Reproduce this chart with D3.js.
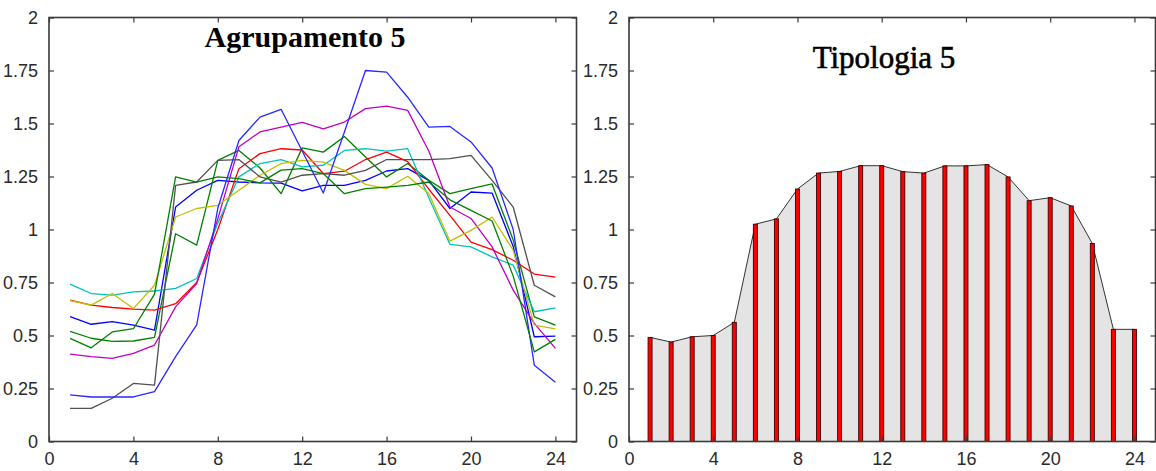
<!DOCTYPE html>
<html><head><meta charset="utf-8">
<script src="https://cdn.jsdelivr.net/npm/d3@7"></script>
<style>
html,body{margin:0;padding:0;background:#fff;}
svg{display:block;}
</style></head>
<body>
<svg id="chart" width="1156" height="471"></svg>
<script>
// ---- data ----
const hours = [1,2,3,4,5,6,7,8,9,10,11,12,13,14,15,16,17,18,19,20,21,22,23,24];
const xTicks = [0,4,8,12,16,20,24];
const yTicks = [0,0.25,0.5,0.75,1,1.25,1.5,1.75,2];
const yTickLabels = ["0","0.25","0.5","0.75","1","1.25","1.5","1.75","2"];
const titleLeft = "Agrupamento 5";
const titleRight = "Tipologia 5";

const seriesBlueA  = [0.589,0.553,0.565,0.549,0.525,1.106,1.185,1.232,1.224,1.22,1.219,1.182,1.208,1.208,1.232,1.276,1.287,1.232,1.099,1.177,1.172,0.92,0.494,0.497];
const seriesGreenA = [0.52,0.487,0.472,0.474,0.491,0.98,0.926,1.326,1.373,1.29,1.169,1.385,1.365,1.439,1.342,1.248,1.311,1.232,1.169,1.193,1.215,0.95,0.588,0.549];
const seriesRed    = [0.667,0.643,0.632,0.624,0.62,0.65,0.75,1.0,1.287,1.358,1.381,1.375,1.264,1.275,1.33,1.365,1.32,1.19,1.067,0.94,0.905,0.855,0.79,0.775];
const seriesCyan   = [0.742,0.698,0.69,0.706,0.71,0.722,0.769,1.03,1.248,1.311,1.33,1.295,1.303,1.373,1.381,1.37,1.381,1.15,0.93,0.918,0.871,0.832,0.612,0.63];
const seriesMagenta= [0.412,0.4,0.392,0.416,0.455,0.635,0.745,1.05,1.39,1.46,1.483,1.505,1.475,1.507,1.57,1.582,1.562,1.37,1.106,1.052,0.918,0.714,0.557,0.439];
const seriesYellow = [0.665,0.643,0.698,0.627,0.737,1.059,1.099,1.114,1.185,1.256,1.311,1.326,1.318,1.279,1.213,1.193,1.251,1.17,0.945,0.996,1.059,0.902,0.549,0.531];
const seriesBlack  = [0.156,0.156,0.204,0.274,0.266,1.208,1.224,1.326,1.33,1.248,1.224,1.256,1.264,1.256,1.279,1.33,1.33,1.33,1.334,1.35,1.232,1.106,0.737,0.682];
const seriesBlueB  = [0.22,0.21,0.21,0.21,0.235,0.40,0.55,1.1,1.42,1.53,1.567,1.37,1.172,1.46,1.75,1.742,1.624,1.483,1.486,1.413,1.29,1.0,0.36,0.279];
const seriesGreenB = [0.486,0.442,0.517,0.532,0.695,1.248,1.224,1.248,1.24,1.22,1.28,1.287,1.264,1.169,1.193,1.2,1.208,1.224,1.14,1.09,1.04,0.78,0.423,0.482];

const typology = [0.491,0.469,0.494,0.50,0.562,1.025,1.050,1.191,1.266,1.274,1.301,1.301,1.273,1.266,1.30,1.30,1.306,1.248,1.136,1.150,1.111,0.934,0.529,0.529];

const lineSeries = [
  {values: seriesBlueA,  color: "#0000ff"},
  {values: seriesGreenA, color: "#008000"},
  {values: seriesRed,    color: "#ff0000"},
  {values: seriesCyan,   color: "#00c0c0"},
  {values: seriesMagenta,color: "#c000c0"},
  {values: seriesYellow, color: "#c0c000"},
  {values: seriesBlack,  color: "#505050"},
  {values: seriesBlueB,  color: "#2828ff"},
  {values: seriesGreenB, color: "#008000"}
];

// ---- layout ----
const svg = d3.select("#chart");
const plotTop = 17.5, plotBottom = 441.5;
const panels = [{x0: 49, x1: 576.5}, {x0: 629, x1: 1155.5}];
const axisColor = "#3a3a3a";
const fontTick = "'Liberation Sans', Arial, sans-serif";

function makePanel(p) {
  const x = d3.scaleLinear().domain([0,25]).range([p.x0, p.x1]);
  const y = d3.scaleLinear().domain([0,2]).range([plotBottom, plotTop]);
  const g = svg.append("g");
  return {x, y, g};
}

function drawFrame(P) {
  const {x, y, g} = P;
  const fg = g.append("g");
  const left = fg.append("g").attr("transform", `translate(${x(0)},0)`)
    .call(d3.axisLeft(y).tickValues(yTicks).tickSize(-5).tickPadding(11)
      .tickFormat((d,i) => yTickLabels[i]));
  const bot = fg.append("g").attr("transform", `translate(0,${y(0)})`)
    .call(d3.axisBottom(x).tickValues(xTicks).tickSize(-5).tickPadding(11));
  const rt = fg.append("g").attr("transform", `translate(${x(25)},0)`)
    .call(d3.axisRight(y).tickValues(yTicks).tickSize(-5).tickFormat(""));
  const tp = fg.append("g").attr("transform", `translate(0,${y(2)})`)
    .call(d3.axisTop(x).tickValues(xTicks).tickSize(-5).tickFormat(""));
  [left, bot, rt, tp].forEach(a => {
    a.select(".domain").remove();
    a.selectAll("line").attr("stroke", axisColor).attr("stroke-width", 1.2);
    a.selectAll("text").attr("fill", "#2a2a2a").style("font-family", fontTick).style("font-size", "18px");
  });
  fg.append("rect")
    .attr("x", x(0)).attr("y", y(2))
    .attr("width", x(25) - x(0)).attr("height", y(0) - y(2))
    .attr("fill", "none").attr("stroke", axisColor).attr("stroke-width", 1.6);
}

// ---- left panel ----
const L = makePanel(panels[0]);
const line = d3.line().x((d,i) => L.x(hours[i])).y(d => L.y(d));
L.g.selectAll("path.series").data(lineSeries).join("path")
  .attr("class", "series")
  .attr("d", s => line(s.values))
  .attr("fill", "none")
  .attr("stroke", s => s.color)
  .attr("stroke-width", 1.3)
  .attr("stroke-linejoin", "round");
drawFrame(L);
L.g.append("text").attr("x", 305).attr("y", 47)
  .attr("text-anchor", "middle")
  .style("font-family", "'Liberation Serif', 'Times New Roman', serif")
  .style("font-weight", "bold").style("font-size", "30px")
  .attr("fill", "#000").text(titleLeft);

// ---- right panel ----
const R = makePanel(panels[1]);
const area = d3.area().x((d,i) => R.x(hours[i])).y0(R.y(0)).y1(d => R.y(d));
const rline = d3.line().x((d,i) => R.x(hours[i])).y(d => R.y(d));
R.g.append("path").attr("d", area(typology)).attr("fill", "#e4e4e4");
R.g.append("path").attr("d", rline(typology)).attr("fill", "none")
  .attr("stroke", "#333").attr("stroke-width", 1);
const bw = 4;
R.g.selectAll("rect.bar").data(typology).join("rect")
  .attr("class", "bar")
  .attr("x", (d,i) => R.x(hours[i]) - bw/2)
  .attr("y", d => R.y(d))
  .attr("width", bw)
  .attr("height", d => R.y(0) - R.y(d))
  .attr("fill", "#ff0000")
  .attr("stroke", "#3a0000")
  .attr("stroke-width", 0.9);
drawFrame(R);
R.g.append("text").attr("x", 884).attr("y", 68)
  .attr("text-anchor", "middle")
  .style("font-family", "'Liberation Serif', 'Times New Roman', serif")
  .style("font-size", "31px")
  .attr("stroke", "#000").attr("stroke-width", 0.6)
  .attr("fill", "#000").text(titleRight);
</script>
</body></html>
